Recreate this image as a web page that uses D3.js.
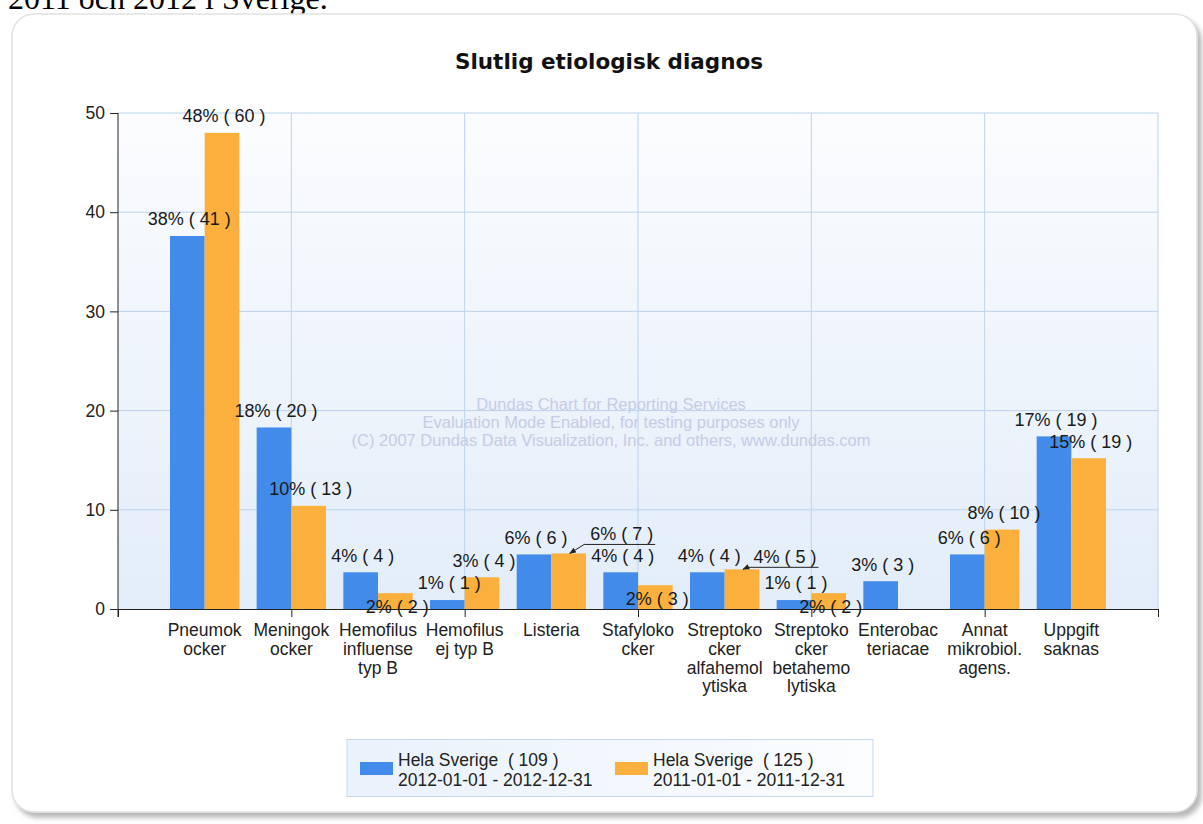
<!DOCTYPE html>
<html><head><meta charset="utf-8">
<script src="https://cdn.jsdelivr.net/npm/d3@7"></script>
<style>body{margin:0;background:#fff;overflow:hidden;} svg{display:block;}</style>
</head><body>
<script>
// ---------- data ----------
const pageText = "2011 och 2012 i Sverige.";
const title = "Slutlig etiologisk diagnos";
const categories = [
  ["Pneumok","ocker"],
  ["Meningok","ocker"],
  ["Hemofilus","influense","typ B"],
  ["Hemofilus","ej typ B"],
  ["Listeria"],
  ["Stafyloko","cker"],
  ["Streptoko","cker","alfahemol","ytiska"],
  ["Streptoko","cker","betahemo","lytiska"],
  ["Enterobac","teriacae"],
  ["Annat","mikrobiol.","agens."],
  ["Uppgift","saknas"]
];
const values2012 = [37.6, 18.3, 3.7, 0.9, 5.5, 3.7, 3.7, 0.9, 2.8, 5.5, 17.4];
const values2011 = [48.0, 10.4, 1.6, 3.2, 5.6, 2.4, 4.0, 1.6, null, 8.0, 15.2];
const labels2012 = ["38% ( 41 )","18% ( 20 )","4% ( 4 )","1% ( 1 )","6% ( 6 )","4% ( 4 )","4% ( 4 )","1% ( 1 )","3% ( 3 )","6% ( 6 )","17% ( 19 )"];
const labels2011 = ["48% ( 60 )","10% ( 13 )","2% ( 2 )","3% ( 4 )","6% ( 7 )","2% ( 3 )","4% ( 5 )","2% ( 2 )",null,"8% ( 10 )","15% ( 19 )"];
const yTicks = [0, 10, 20, 30, 40, 50];
const legendNames = [["Hela Sverige\u00A0 ( 109 )","2012-01-01 - 2012-12-31"],["Hela Sverige\u00A0 ( 125 )","2011-01-01 - 2011-12-31"]];
const watermark = ["Dundas Chart for Reporting Services","Evaluation Mode Enabled, for testing purposes only","(C) 2007 Dundas Data Visualization, Inc. and others, www.dundas.com"];

// ---------- layout / style (not data) ----------
const W = 1203, H = 824;
const colors = ["#428bea", "#fbb03d"];
const FONT = "'Liberation Sans', Arial, sans-serif";
// label placement for 2011 series (smart-label emulation)
const place2011 = {2:{mode:"below"},5:{mode:"below"},7:{mode:"below"},4:{mode:"callout",dx:53,dy:-20},6:{mode:"callout",dx:43,dy:-13}};

const svg = d3.select("body").append("svg").attr("width", W).attr("height", H);
const defs = svg.append("defs");
const sh = defs.append("filter").attr("id","shadow").attr("x","-5%").attr("y","-5%").attr("width","110%").attr("height","110%");
sh.append("feDropShadow").attr("dx",4).attr("dy",5).attr("stdDeviation",2.5).attr("flood-color","#888").attr("flood-opacity",0.6);
const pg = defs.append("linearGradient").attr("id","plotbg").attr("x1",0).attr("y1",0).attr("x2",0).attr("y2",1);
pg.append("stop").attr("offset","0%").attr("stop-color","#fbfcfe");
pg.append("stop").attr("offset","100%").attr("stop-color","#e2edf9");
const lg = defs.append("linearGradient").attr("id","legbg").attr("x1",0).attr("y1",0).attr("x2",1).attr("y2",0);
lg.append("stop").attr("offset","0%").attr("stop-color","#e9f1fb");
lg.append("stop").attr("offset","100%").attr("stop-color","#fbfdff");
const ah = defs.append("marker").attr("id","arrow").attr("viewBox","0 0 10 10").attr("refX",9).attr("refY",5)
  .attr("markerWidth",7).attr("markerHeight",7).attr("orient","auto-start-reverse");
ah.append("path").attr("d","M0,1 L10,5 L0,9 z").attr("fill","#222");

// page text above the frame (clipped by window top, as in the source)
svg.append("text").attr("x",8).attr("y",9).attr("font-family","'Liberation Serif','Times New Roman',serif")
  .attr("font-size",32).attr("fill","#000").text(pageText);

// frame
svg.append("rect").attr("x",12).attr("y",14).attr("width",1185).attr("height",798).attr("rx",22)
  .attr("fill","#fff").attr("stroke","#e2e2e2").attr("stroke-width",1.5).attr("filter","url(#shadow)");

// title
svg.append("text").attr("x",609).attr("y",69).attr("text-anchor","middle")
  .attr("font-family","Verdana,'DejaVu Sans',sans-serif").attr("font-weight","bold").attr("font-size",21.5)
  .attr("fill","#111").text(title);

// scales
const x = d3.scaleLinear().domain([0, categories.length + 1]).range([118, 1158]);
const y = d3.scaleLinear().domain([0, 50]).range([609, 113]);
const barW = x(0.4) - x(0);

// plot background
svg.append("rect").attr("x",x(0)).attr("y",y(50)).attr("width",x(12)-x(0)).attr("height",y(0)-y(50)).attr("fill","url(#plotbg)");

// gridlines
const xGrid = d3.range(0, categories.length + 2, 2);
svg.append("g").selectAll("line.h").data(yTicks.filter(d=>d>0)).join("line")
  .attr("x1",x(0)).attr("x2",x(12)).attr("y1",d=>y(d)).attr("y2",d=>y(d)).attr("stroke","#bcd3ed").attr("stroke-width",1);
svg.append("g").selectAll("line.v").data(xGrid.filter(d=>d>0)).join("line")
  .attr("x1",d=>x(d)).attr("x2",d=>x(d)).attr("y1",y(50)).attr("y2",y(0)).attr("stroke","#bcd3ed").attr("stroke-width",1);

// watermark
svg.append("g").selectAll("text").data(watermark).join("text")
  .attr("x",611).attr("y",(d,i)=>404 + i*18).attr("dy","0.35em").attr("text-anchor","middle")
  .attr("font-family",FONT).attr("font-size",16.5).attr("fill","#c5cce6").text(d=>d);

// bars
const bars = svg.append("g");
categories.forEach((c, i) => {
  const cx = x(i + 1);
  if (values2012[i] != null) bars.append("rect").attr("x", cx - barW).attr("width", barW)
    .attr("y", y(values2012[i])).attr("height", y(0) - y(values2012[i])).attr("fill", colors[0]);
  if (values2011[i] != null) bars.append("rect").attr("x", cx).attr("width", barW)
    .attr("y", y(values2011[i])).attr("height", y(0) - y(values2011[i])).attr("fill", colors[1]);
});

// axes
const yAxis = d3.axisLeft(y).tickValues(yTicks).tickSize(8).tickSizeOuter(0).tickPadding(5);
const gy = svg.append("g").attr("transform",`translate(${x(0)},0)`).call(yAxis);
gy.select(".domain").remove();
gy.selectAll(".tick line").attr("stroke","#222");
gy.selectAll(".tick text").attr("font-family",FONT).attr("font-size",17.5).attr("fill","#222");
const xAxis = d3.axisBottom(x).tickValues(xGrid).tickSize(8).tickSizeOuter(0).tickFormat("");
const gx = svg.append("g").attr("transform",`translate(0,${y(0)})`).call(xAxis);
gx.select(".domain").attr("stroke","#222");
gx.selectAll(".tick line").attr("stroke","#222");
svg.append("line").attr("x1",x(0)).attr("x2",x(0)).attr("y1",y(50)).attr("y2",y(0)+8).attr("stroke","#222");

// category labels
const cl = svg.append("g").attr("font-family",FONT).attr("font-size",17.5).attr("fill","#222").attr("text-anchor","middle");
categories.forEach((lines, i) => {
  const t = cl.append("text").attr("x", x(i + 1)).attr("y", 630);
  lines.forEach((ln, k) => t.append("tspan").attr("x", x(i + 1)).attr("y", 630 + k * 18.7).attr("dy","0.35em").text(ln));
});

// value labels
const vl = svg.append("g").attr("font-family",FONT).attr("font-size",18).attr("fill","#1a1a1a").attr("text-anchor","middle");
categories.forEach((c, i) => {
  if (labels2012[i]) {
    const bx = x(i + 1) - barW / 2, by = y(values2012[i]);
    vl.append("text").attr("x", bx + 2).attr("y", by - 17).attr("dy","0.35em").text(labels2012[i]);
  }
  if (labels2011[i]) {
    const bx = x(i + 1) + barW / 2, by = y(values2011[i]);
    const p = place2011[i] || {mode:"above"};
    if (p.mode === "above") {
      vl.append("text").attr("x", bx + 2).attr("y", by - 17).attr("dy","0.35em").text(labels2011[i]);
    } else if (p.mode === "below") {
      vl.append("text").attr("x", bx + 2).attr("y", by + 14).attr("dy","0.35em").text(labels2011[i]);
    } else {
      const tx = bx + p.dx, ty = by + p.dy;
      const t = vl.append("text").attr("x", tx).attr("y", ty).attr("dy","0.35em").text(labels2011[i]);
      const w = t.node().getComputedTextLength();
      const uy = ty + 11;
      svg.append("path").attr("d", `M${tx + w/2 + 2},${uy} L${tx - w/2 - 6},${uy} L${bx + 1},${by}`)
        .attr("fill","none").attr("stroke","#222").attr("stroke-width",1).attr("marker-end","url(#arrow)");
    }
  }
});

// legend
const leg = svg.append("g");
leg.append("rect").attr("x",347).attr("y",739.5).attr("width",526).attr("height",57).attr("fill","url(#legbg)").attr("stroke","#c6d9ef");
const legX = [360, 615];
legendNames.forEach((lines, k) => {
  leg.append("rect").attr("x",legX[k]).attr("y",762).attr("width",33).attr("height",13).attr("fill",colors[k]);
  const t = leg.append("text").attr("font-family",FONT).attr("font-size",17.5).attr("fill","#222");
  lines.forEach((ln, j) => t.append("tspan").attr("x", legX[k] + 38).attr("y", 760 + j * 20).attr("dy","0.35em").text(ln));
});
</script>
</body></html>
